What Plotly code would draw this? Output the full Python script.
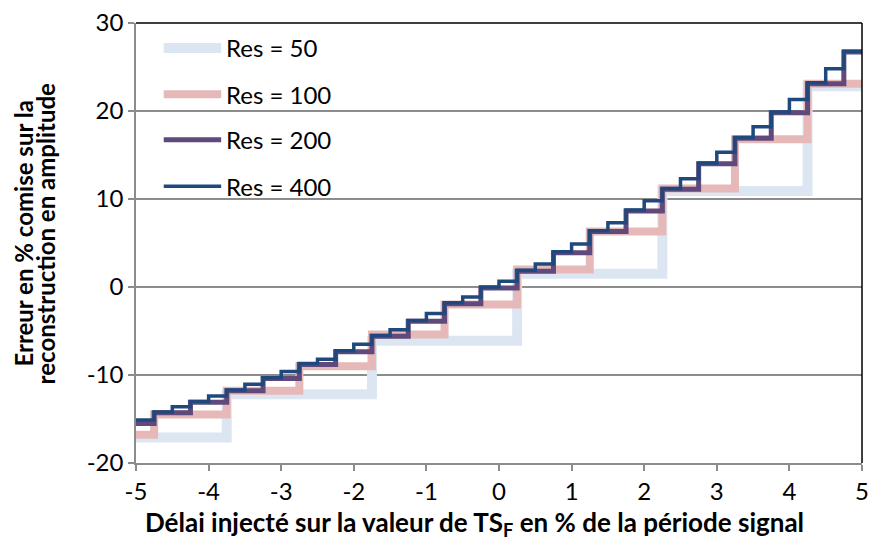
import plotly.graph_objects as go

# Delay range (% of signal period)
x_min, x_max = -5, 5
y_min, y_max = -20, 30

# Step start positions and amplitude error levels (%) for each resolution
res50_x = [-5.0, -3.75, -1.75, 0.25, 2.25, 4.25]
res50_y = [-17.1, -12.2, -6.1, 1.5, 10.9, 22.8]

res100_x = [-5.0, -4.75, -3.75, -2.75, -1.75, -0.75, 0.25, 1.25, 2.25, 3.25, 4.25]
res100_y = [-16.8, -14.5, -11.8, -9.0, -5.4, -2.0, 2.0, 6.3, 11.2, 16.8, 23.1]

res200_x = [-5.0, -4.75, -4.25, -3.75, -3.25, -2.75, -2.25, -1.75, -1.25, -0.75,
            -0.25, 0.25, 0.75, 1.25, 1.75, 2.25, 2.75, 3.25, 3.75, 4.25, 4.75]
res200_y = [-15.5, -14.3, -13.1, -11.8, -10.4, -8.8, -7.35, -5.6, -3.9, -1.9,
            -0.1, 1.8, 3.9, 6.3, 8.65, 11.1, 14.0, 16.9, 19.8, 23.1, 26.7]

res400_x = [-5.0, -4.75, -4.5, -4.25, -4.0, -3.75, -3.5, -3.25, -3.0, -2.75,
            -2.5, -2.25, -2.0, -1.75, -1.5, -1.25, -1.0, -0.75, -0.5, -0.25,
            0.0, 0.25, 0.5, 0.75, 1.0, 1.25, 1.5, 1.75, 2.0, 2.25,
            2.5, 2.75, 3.0, 3.25, 3.5, 3.75, 4.0, 4.25, 4.5, 4.75]
res400_y = [-15.1, -14.2, -13.6, -13.0, -12.4, -11.7, -11.05, -10.3, -9.6, -8.7,
            -8.2, -7.25, -6.5, -5.5, -4.85, -3.8, -3.0, -1.8, -1.15, 0.0,
            0.65, 1.9, 2.6, 4.0, 4.9, 6.4, 7.3, 8.75, 9.8, 11.2,
            12.3, 14.1, 15.3, 17.0, 18.2, 19.9, 21.3, 23.2, 24.8, 26.8]

x_ticks = [-5, -4, -3, -2, -1, 0, 1, 2, 3, 4, 5]
x_tick_labels = ["-5", "-4", "-3", "-2", "-1", "0", "1", "2", "3", "4", "5"]
y_ticks = [-20, -10, 0, 10, 20, 30]
y_tick_labels = ["-20", "-10", "0", "10", "20", "30"]

series = [
    ("Res = 50", res50_x, res50_y, "#DCE6F2", 10),
    ("Res = 100", res100_x, res100_y, "#E6B9B8", 8),
    ("Res = 200", res200_x, res200_y, "#604A7B", 5),
    ("Res = 400", res400_x, res400_y, "#1F497D", 3.5),
]

FONT = "Lato"
W, H = 876, 543
ML, MR, MT, MB = 136, 7, 22, 80
PW, PH = W - ML - MR, H - MT - MB


def px_to_paper(px, py):
    return (px - ML) / PW, (H - MB - py) / PH


fig = go.Figure()
for name, xs, ys, color, width in series:
    fig.add_trace(go.Scatter(
        x=xs + [x_max], y=ys + [ys[-1]],
        mode="lines", line=dict(color=color, width=width, shape="hv"),
        name=name, showlegend=False, hoverinfo="skip",
    ))

# Hand-drawn legend in the upper-left corner of the plot area
legend_rows = [47, 93.5, 139, 185.5]
shapes = []
annotations = []
for (name, _, _, color, width), py in zip(series, legend_rows):
    x0, y0 = px_to_paper(164, py)
    x1, _ = px_to_paper(222, py)
    shapes.append(dict(type="line", xref="paper", yref="paper",
                       x0=x0, x1=x1, y0=y0, y1=y0,
                       line=dict(color=color, width=width)))
    tx, _ = px_to_paper(225, py)
    annotations.append(dict(text=name, xref="paper", yref="paper",
                            x=tx, y=y0, xanchor="left", yanchor="middle",
                            showarrow=False,
                            font=dict(family=FONT, size=24, color="#000")))

# Axis titles
tx, ty = px_to_paper(478, 524)
annotations.append(dict(
    text="<b>Délai injecté sur la valeur de TS<sub>F</sub> en % de la période signal</b>",
    xref="paper", yref="paper", x=tx, y=ty, xanchor="center", yanchor="middle",
    showarrow=False, font=dict(family=FONT, size=26, color="#000")))
for line, px in (("Erreur en % comise sur la", 22), ("reconstruction en amplitude", 45)):
    lx, ly = px_to_paper(px, 233)
    annotations.append(dict(
        text=f"<b>{line}</b>", textangle=-90,
        xref="paper", yref="paper", x=lx, y=ly, xanchor="center", yanchor="middle",
        showarrow=False, font=dict(family=FONT, size=24, color="#000")))

# Black frame on the top and right sides of the plot area
shapes.append(dict(type="line", xref="paper", yref="paper", x0=0, x1=1, y0=1, y1=1,
                   line=dict(color="#000", width=1.5)))
shapes.append(dict(type="line", xref="paper", yref="paper", x0=1, x1=1, y0=0, y1=1,
                   line=dict(color="#000", width=1.5)))

axis_gray = "#8C8C8C"
fig.update_layout(
    width=W, height=H, autosize=False,
    margin=dict(l=ML, r=MR, t=MT, b=MB),
    paper_bgcolor="white", plot_bgcolor="white",
    font=dict(family=FONT, size=24, color="#000"),
    shapes=shapes, annotations=annotations,
    xaxis=dict(
        range=[x_min, x_max], tickvals=x_ticks, ticktext=x_tick_labels,
        showgrid=False, zeroline=False,
        showline=True, linecolor=axis_gray, linewidth=1.5,
        ticks="outside", ticklen=6, tickwidth=1.5, tickcolor=axis_gray,
        tickfont=dict(family=FONT, size=24, color="#000"),
    ),
    yaxis=dict(
        range=[y_min, y_max], tickvals=y_ticks, ticktext=y_tick_labels,
        showgrid=True, gridcolor=axis_gray, gridwidth=1.5, zeroline=False,
        showline=True, linecolor=axis_gray, linewidth=1.5,
        ticks="outside", ticklen=6, tickwidth=1.5, tickcolor=axis_gray,
        tickfont=dict(family=FONT, size=24, color="#000"),
    ),
)

fig.write_html("out.html")
